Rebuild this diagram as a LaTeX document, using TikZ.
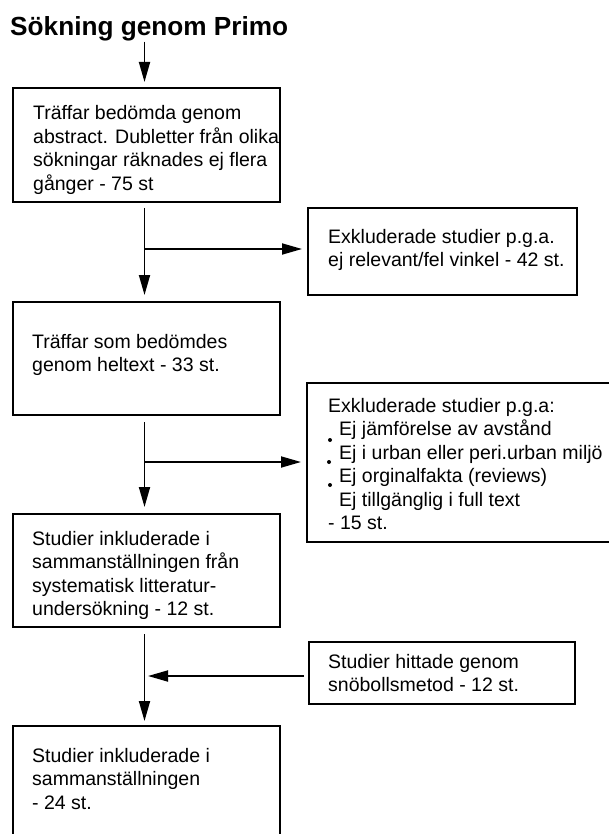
\documentclass[tikz,border=0pt]{standalone}
\usepackage{fontspec}
\setmainfont{Liberation Sans}
\usetikzlibrary{arrows.meta}
\begin{document}
\begin{tikzpicture}[x=1pt,y=1pt,
  box/.style={draw, line width=2pt, inner sep=0pt},
  txt/.style={anchor=base west, align=left, inner sep=0pt, font=\fontsize{19.5pt}{23.5pt}\selectfont},
  arr/.style={line width=1.8pt, -{Triangle[length=20pt,width=11pt]}, shorten >=5pt},
  bul/.style={fill=black}]
\useasboundingbox (0,0) rectangle (609,-834);
\node[anchor=base west, inner sep=0pt, font=\fontsize{26.2pt}{30pt}\selectfont\bfseries] (title) at (10,-36) {Sökning genom Primo};
% boxes
\node[box, minimum width=267pt, minimum height=114pt] (b1) at (146.5,-145) {};
\node[box, minimum width=269pt, minimum height=87pt] (b3) at (442.5,-251.5) {};
\node[box, minimum width=267pt, minimum height=113pt] (b2) at (146.5,-358.5) {};
\node[box, minimum width=330pt, minimum height=159pt] (b4) at (472,-462.5) {};
\node[box, minimum width=267pt, minimum height=113pt] (b5) at (146.5,-570.5) {};
\node[box, minimum width=266pt, minimum height=62pt] (b6) at (442,-673) {};
\node[box, minimum width=267pt, minimum height=174pt] (b7) at (146.5,-813) {};
% texts (anchored at the baseline of the last line)
\node[txt] (t1) at (33,-190.5) {Träffar bedömda genom\\abstract. Dubletter från olika\\sökningar räknades ej flera\\gånger - 75 st};
\node[txt] (t3) at (328,-266.5) {Exkluderade studier p.g.a.\\ej relevant/fel vinkel - 42 st.};
\node[txt] (t2) at (32,-371.5) {Träffar som bedömdes\\genom heltext - 33 st.};
\node[txt] (t4) at (328,-529.5) {Exkluderade studier p.g.a:\\\hspace*{11pt}Ej jämförelse av avstånd\\\hspace*{11pt}Ej i urban eller peri.urban miljö\\\hspace*{11pt}Ej orginalfakta (reviews)\\\hspace*{11pt}Ej tillgänglig i full text\\- 15 st.};
\node[txt] (t5) at (32,-615.5) {Studier inkluderade i\\sammanställningen från\\systematisk litteratur-\\undersökning - 12 st.};
\node[txt] (t6) at (328,-691.5) {Studier hittade genom\\snöbollsmetod - 12 st.};
\node[txt] (t7) at (32,-809) {Studier inkluderade i\\sammanställningen\\- 24 st.};
% bullets
\fill[bul] (330,-440) circle (2pt);
\fill[bul] (329,-462) circle (2pt);
\fill[bul] (330,-485) circle (2pt);
% connectors
\coordinate (ax) at (144.5,0);
\coordinate (j1) at (144.5,-249);
\coordinate (j2) at (144.5,-462);
\coordinate (j3) at (144.5,-676);
\draw[arr] (title.south -| ax) -- (b1.north -| ax);
\draw[arr, shorten <=5pt, shorten >=6pt] (b1.south -| ax) -- (b2.north -| ax);
\draw[arr] (j1) -- (j1 -| b3.west);
\draw[arr, shorten <=6pt, shorten >=6pt] (b2.south -| ax) -- (b5.north -| ax);
\draw[arr] (j2) -- (j2 -| b4.west);
\draw[arr, shorten <=6pt, shorten >=4pt] (b5.south -| ax) -- (b7.north -| ax);
\draw[arr, shorten <=4pt, shorten >=3.5pt] (j3 -| b6.west) -- (j3);
\end{tikzpicture}
\end{document}
